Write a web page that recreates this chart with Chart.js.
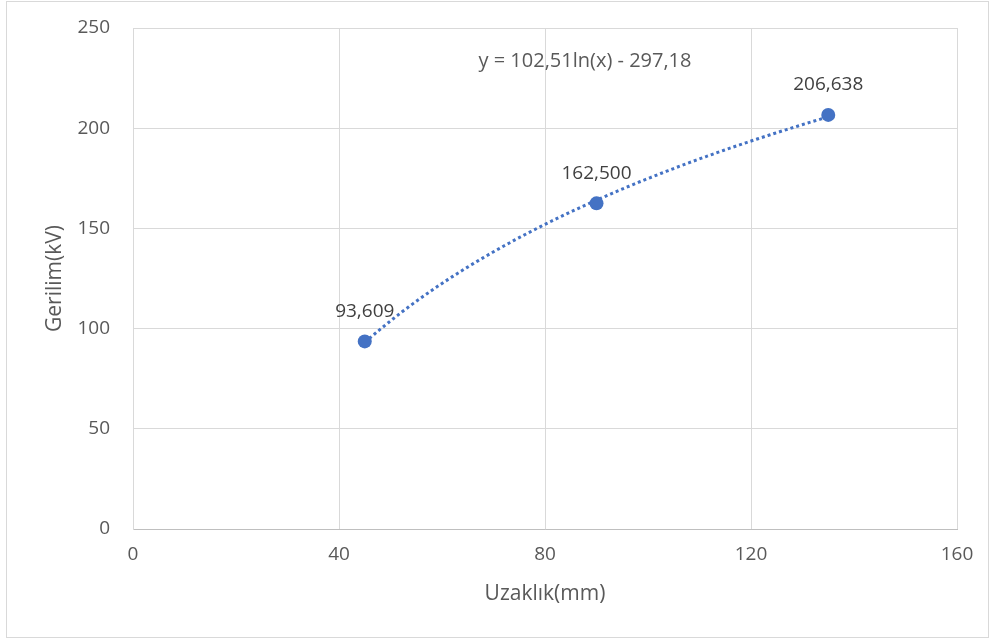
<!DOCTYPE html>
<html>
<head>
<meta charset="utf-8">
<script src="https://cdn.jsdelivr.net/npm/chart.js@4/dist/chart.umd.min.js"></script>
<style>
  html, body { margin: 0; padding: 0; background: #ffffff; }
  #wrap { width: 997px; height: 644px; position: relative; }
</style>
</head>
<body>
<div id="wrap"><canvas id="c" width="997" height="644"></canvas></div>
<script>
// ---- data ----
const distances = [45, 90, 135];              // Uzaklık (mm)
const voltages = [93.609, 162.5, 206.638];    // Gerilim (kV)
const pointLabels = ['93,609', '162,500', '206,638'];
const xTicks = [0, 40, 80, 120, 160];
const yTicks = [0, 50, 100, 150, 200, 250];
// logarithmic trendline shown on the chart: y = a ln(x) + b
const trendA = 102.51;
const trendB = -297.18;
const trendLabel = 'y = 102,51ln(x) - 297,18';
const xTitle = 'Uzaklık(mm)';
const yTitle = 'Gerilim(kV)';

const FONT = "'Open Sans', 'Liberation Sans', sans-serif";
const TEXT = '#595959';
const GRID = '#d9d9d9';
const BLUE = '#4472C4';

const frame = {
  id: 'frame',
  beforeDraw(chart) {
    const ctx = chart.ctx;
    ctx.save();
    ctx.fillStyle = '#ffffff';
    ctx.fillRect(0, 0, chart.width, chart.height);
    ctx.strokeStyle = '#d9d9d9';
    ctx.lineWidth = 1;
    ctx.strokeRect(6.5, 1.5, 982, 636);
    ctx.restore();
  }
};

const trend = {
  id: 'trend',
  beforeDatasetsDraw(chart) {
    const xs = chart.scales.x, ys = chart.scales.y, ctx = chart.ctx;
    const x0 = Math.min(...distances), x1 = Math.max(...distances);
    ctx.save();
    ctx.beginPath();
    const steps = 200;
    for (let i = 0; i <= steps; i++) {
      const xv = x0 + (x1 - x0) * i / steps;
      const yv = trendA * Math.log(xv) + trendB;
      const px = xs.getPixelForValue(xv), py = ys.getPixelForValue(yv);
      if (i === 0) ctx.moveTo(px, py); else ctx.lineTo(px, py);
    }
    ctx.strokeStyle = BLUE;
    ctx.lineWidth = 3;
    ctx.setLineDash([3, 3]);
    ctx.stroke();
    ctx.setLineDash([]);
    // equation label
    ctx.fillStyle = TEXT;
    ctx.font = "20px " + FONT;
    ctx.textAlign = 'center';
    ctx.textBaseline = 'middle';
    ctx.fillText(trendLabel, 585, 61);
    ctx.restore();
  },
  afterDatasetsDraw(chart) {
    const meta = chart.getDatasetMeta(0), ctx = chart.ctx;
    ctx.save();
    ctx.fillStyle = '#404040';
    ctx.font = "19px " + FONT;
    ctx.textAlign = 'center';
    ctx.textBaseline = 'middle';
    meta.data.forEach((pt, i) => {
      ctx.fillText(pointLabels[i], pt.x, pt.y - 30);
    });
    ctx.restore();
  }
};

new Chart(document.getElementById('c'), {
  type: 'scatter',
  data: {
    datasets: [{
      data: distances.map((d, i) => ({ x: d, y: voltages[i] })),
      backgroundColor: BLUE,
      borderColor: BLUE,
      pointRadius: 7,
      pointHoverRadius: 7,
      borderWidth: 0
    }]
  },
  options: {
    responsive: false,
    animation: false,
    devicePixelRatio: 1,
    layout: { padding: { top: 28, right: 40, left: 0, bottom: 0 } },
    plugins: { legend: { display: false }, tooltip: { enabled: false } },
    scales: {
      x: {
        type: 'linear',
        min: 0, max: 160,
        afterBuildTicks(s) { s.ticks = xTicks.map(v => ({ value: v })); },
        afterFit(s) { s.height = 115; s.paddingLeft = 0; s.paddingRight = 0; },
        ticks: { color: TEXT, font: { size: 19, family: FONT }, padding: 14, maxRotation: 0 },
        grid: { color: GRID, drawTicks: false, lineWidth: 1 },
        border: { color: '#bfbfbf', width: 1 },
        title: { display: true, text: xTitle, color: TEXT, font: { size: 21, family: FONT }, padding: { top: 0, bottom: 37 } }
      },
      y: {
        type: 'linear',
        min: 0, max: 250,
        afterBuildTicks(s) { s.ticks = yTicks.map(v => ({ value: v })); },
        afterFit(s) { s.width = 133; s.paddingTop = 0; s.paddingBottom = 0; },
        ticks: { color: TEXT, font: { size: 19, family: FONT }, padding: 23 },
        grid: { color: GRID, drawTicks: false, lineWidth: 1 },
        border: { color: GRID, width: 1 },
        title: { display: true, text: yTitle, color: TEXT, font: { size: 21, family: FONT }, padding: { top: 42, bottom: 0 } }
      }
    }
  },
  plugins: [frame, trend]
});
</script>
</body>
</html>
